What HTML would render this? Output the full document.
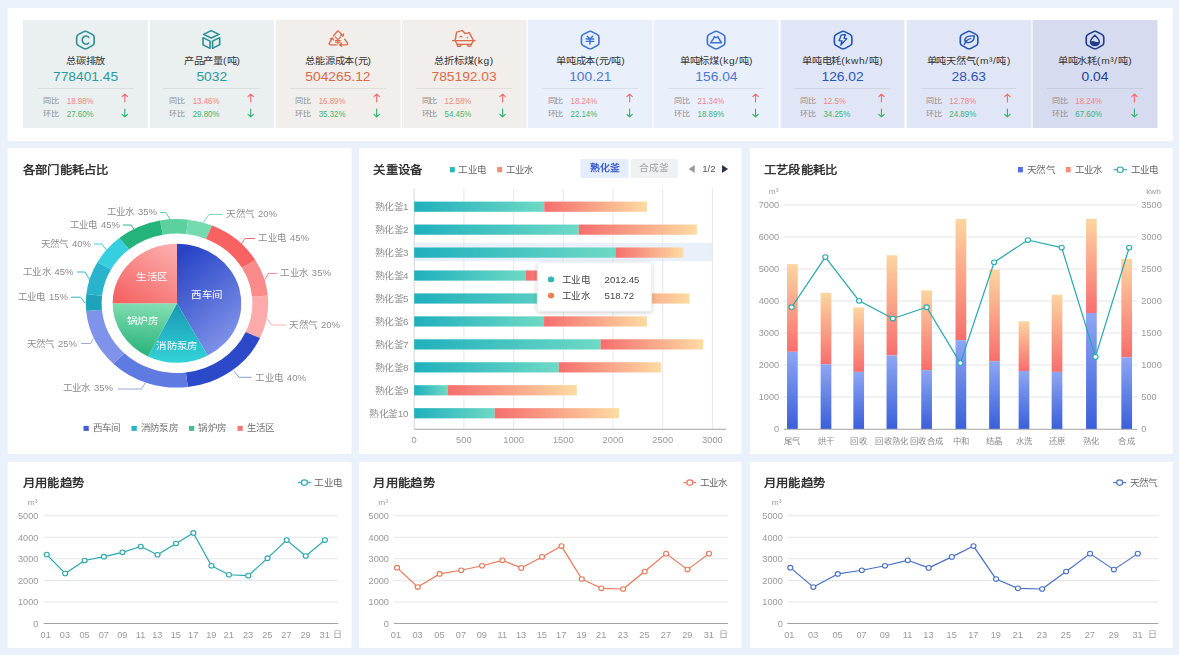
<!DOCTYPE html>
<html lang="zh-CN"><head><meta charset="utf-8"><title>能耗看板</title><style>
html,body{margin:0;padding:0;background:#ebf1fa;}
body{width:1179px;height:655px;overflow:hidden;position:relative;font-family:"Liberation Sans",sans-serif;}
#root{position:absolute;left:0;top:0;width:1076.71px;height:655px;transform-origin:0 0;transform:scale(1.095,1);}
.panel{position:absolute;background:#fff;border-radius:1px;}
.card{position:absolute;top:20.4px;height:107.4px;}
.t{position:absolute;white-space:nowrap;line-height:1;}
.ct{left:0;right:0;text-align:center;}
.title{font-size:11.3px;font-weight:normal;color:#222;letter-spacing:0.25px;-webkit-text-stroke:0.32px #222;margin-top:0.7px;}
.lg{font-size:8.8px;color:#666;}
svg{position:absolute;left:0;top:0;overflow:visible;}
svg text{font-family:"Liberation Sans",sans-serif;}
</style></head><body><div id="root">
<div class="panel" style="left:7.31px;top:8px;width:1063.37px;height:133.1px"></div>
<div class="panel" style="left:7.31px;top:148.4px;width:313.51px;height:306px"></div>
<div class="panel" style="left:327.85px;top:148.4px;width:349.04px;height:306px"></div>
<div class="panel" style="left:684.57px;top:148.4px;width:386.11px;height:306px"></div>
<div class="panel" style="left:7.31px;top:461.7px;width:313.6px;height:186.7px"></div>
<div class="panel" style="left:327.85px;top:461.7px;width:349.04px;height:186.7px"></div>
<div class="panel" style="left:684.57px;top:461.7px;width:386.11px;height:186.7px"></div>
<div class="card" style="left:21.28px;width:113.79px;background:#eaf0f0">
<svg width="22" height="22" viewBox="0 0 22 22" style="left:50%;margin-left:-11px;top:8.4px" fill="none" stroke="#2a9098" stroke-width="1.5" stroke-linejoin="round" stroke-linecap="round"><path d="M9.24 2.82 Q11 1.8 12.76 2.82 L17.25 5.41 Q19.01 6.42 19.01 8.46 L19.01 13.64 Q19.01 15.67 17.25 16.69 L12.76 19.28 Q11 20.3 9.24 19.28 L4.75 16.69 Q2.99 15.68 2.99 13.64 L2.99 8.46 Q2.99 6.42 4.75 5.41 Z"/><path d="M14 8.3 A3.4 4.1 0 1 0 14 14" stroke-width="1.6"/></svg>
<div class="t ct" style="top:36.4px;font-size:9.35px;color:#333">总碳排放</div>
<div class="t ct" style="top:50.3px;font-size:12.6px;color:#2b9aa0">778401.45</div>
<div style="position:absolute;left:12.79px;width:87.85px;top:67.4px;height:1px;background:rgba(0,0,0,0.07)"></div>
<div class="t" style="left:18.08px;top:76.8px;font-size:7.4px;color:#8c8c8c">同比</div>
<div class="t" style="left:39.27px;top:76.2px;font-size:8.8px;color:#ef8585;transform:scaleX(0.82);transform-origin:0 50%">18.98%</div>
<svg width="8" height="10" viewBox="-4 -5 8 10" style="left:88.51px;top:72.4px" fill="none" stroke="#f56c6c" stroke-width="1.05" stroke-linecap="round" stroke-linejoin="round"><path d="M0 3.9 L0 -3.7 M-2.5 -1.4 L0 -3.9 L2.5 -1.4"/></svg>
<div class="t" style="left:18.08px;top:90px;font-size:7.4px;color:#8c8c8c">环比</div>
<div class="t" style="left:39.27px;top:89.4px;font-size:8.8px;color:#3fb574;transform:scaleX(0.82);transform-origin:0 50%">27.60%</div>
<svg width="8" height="10" viewBox="-4 -5 8 10" style="left:88.51px;top:87.2px" fill="none" stroke="#2fb46c" stroke-width="1.05" stroke-linecap="round" stroke-linejoin="round"><path d="M0 -3.9 L0 3.7 M-2.5 1.4 L0 3.9 L2.5 1.4"/></svg>
</div>
<div class="card" style="left:136.5px;width:113.79px;background:#eaf0f0">
<svg width="22" height="22" viewBox="0 0 22 22" style="left:50%;margin-left:-11px;top:8.4px" fill="none" stroke="#2a9098" stroke-width="1.5" stroke-linejoin="round" stroke-linecap="round"><path d="M10.9 1.6 L18 5.4 L10.9 9 L3.9 5.4 Z"/><path d="M3.4 8.7 L9.8 12.1 L9.8 19.3 L3.4 15.8 Z"/><path d="M12.1 12.1 L18.6 8.7 L18.6 15.6 L12.1 19.3 Z"/></svg>
<div class="t ct" style="top:36.4px;font-size:9.35px;color:#333">产品产量(吨)</div>
<div class="t ct" style="top:50.3px;font-size:12.6px;color:#2b9aa0">5032</div>
<div style="position:absolute;left:12.79px;width:87.85px;top:67.4px;height:1px;background:rgba(0,0,0,0.07)"></div>
<div class="t" style="left:18.08px;top:76.8px;font-size:7.4px;color:#8c8c8c">同比</div>
<div class="t" style="left:39.27px;top:76.2px;font-size:8.8px;color:#ef8585;transform:scaleX(0.82);transform-origin:0 50%">13.46%</div>
<svg width="8" height="10" viewBox="-4 -5 8 10" style="left:88.51px;top:72.4px" fill="none" stroke="#f56c6c" stroke-width="1.05" stroke-linecap="round" stroke-linejoin="round"><path d="M0 3.9 L0 -3.7 M-2.5 -1.4 L0 -3.9 L2.5 -1.4"/></svg>
<div class="t" style="left:18.08px;top:90px;font-size:7.4px;color:#8c8c8c">环比</div>
<div class="t" style="left:39.27px;top:89.4px;font-size:8.8px;color:#3fb574;transform:scaleX(0.82);transform-origin:0 50%">29.80%</div>
<svg width="8" height="10" viewBox="-4 -5 8 10" style="left:88.51px;top:87.2px" fill="none" stroke="#2fb46c" stroke-width="1.05" stroke-linecap="round" stroke-linejoin="round"><path d="M0 -3.9 L0 3.7 M-2.5 1.4 L0 3.9 L2.5 1.4"/></svg>
</div>
<div class="card" style="left:251.73px;width:113.79px;background:#f2eeeb">
<svg width="22" height="22" viewBox="0 0 22 22" style="left:50%;margin-left:-11px;top:8.4px" fill="none" stroke="#dd6b47" stroke-width="1.5" stroke-linejoin="round" stroke-linecap="round"><g stroke-width="1.3"><path d="M6.6 6.9 L10 2.3 Q10.7 1.4 11.4 2.3 L15 6.7"/><path d="M13.2 6.3 L15.3 7 L15.7 4.9"/><path d="M16.8 10.1 L19.3 14 Q19.9 15.7 18.2 15.8 L12.4 15.8"/><path d="M13.9 14.3 L12.2 15.8 L13.9 17.3"/><path d="M9.6 15.8 L3.8 15.8 Q2.1 15.7 2.8 14 L5.3 9.4"/><path d="M3.6 10 L5.5 9 L6.5 10.9"/><path d="M8 7.8 L10.6 10.6 L13.2 7.8 M10.6 10.6 L10.6 14.6 M8.4 11.5 L12.8 11.5 M8.4 13.1 L12.8 13.1" stroke-width="1.1"/></g></svg>
<div class="t ct" style="top:36.4px;font-size:9.35px;color:#333">总能源成本(元)</div>
<div class="t ct" style="top:50.3px;font-size:12.6px;color:#db6a48">504265.12</div>
<div style="position:absolute;left:12.79px;width:87.85px;top:67.4px;height:1px;background:rgba(0,0,0,0.07)"></div>
<div class="t" style="left:18.08px;top:76.8px;font-size:7.4px;color:#8c8c8c">同比</div>
<div class="t" style="left:39.27px;top:76.2px;font-size:8.8px;color:#ef8585;transform:scaleX(0.82);transform-origin:0 50%">16.89%</div>
<svg width="8" height="10" viewBox="-4 -5 8 10" style="left:88.51px;top:72.4px" fill="none" stroke="#f56c6c" stroke-width="1.05" stroke-linecap="round" stroke-linejoin="round"><path d="M0 3.9 L0 -3.7 M-2.5 -1.4 L0 -3.9 L2.5 -1.4"/></svg>
<div class="t" style="left:18.08px;top:90px;font-size:7.4px;color:#8c8c8c">环比</div>
<div class="t" style="left:39.27px;top:89.4px;font-size:8.8px;color:#3fb574;transform:scaleX(0.82);transform-origin:0 50%">35.32%</div>
<svg width="8" height="10" viewBox="-4 -5 8 10" style="left:88.51px;top:87.2px" fill="none" stroke="#2fb46c" stroke-width="1.05" stroke-linecap="round" stroke-linejoin="round"><path d="M0 -3.9 L0 3.7 M-2.5 1.4 L0 3.9 L2.5 1.4"/></svg>
</div>
<div class="card" style="left:366.95px;width:113.79px;background:#f2eeeb">
<svg width="22" height="22" viewBox="0 0 22 22" style="left:50%;margin-left:-11px;top:8.4px" fill="none" stroke="#dd6b47" stroke-width="1.5" stroke-linejoin="round" stroke-linecap="round"><g stroke-width="1.3"><path d="M0.4 11.6 L20.8 11.6"/><path d="M2.6 11.6 L4.7 15.3 L17.4 15.3 L19.4 11.6"/><path d="M2.7 11.2 L4 3.2 L9.3 1.5 L11.7 4.6 L15.5 3.6 L19.3 11.2"/><path d="M7 8 Q8 6.4 9 8" stroke-width="1.1"/><path d="M13.8 8.2 L13.8 9" stroke-width="1.1"/><path d="M4.5 15.5 A1.75 1.9 0 0 0 8 15.5"/><path d="M13.9 15.5 A1.75 1.9 0 0 0 17.4 15.5"/></g></svg>
<div class="t ct" style="top:36.4px;font-size:9.35px;color:#333">总折标煤<span style="letter-spacing:0.55px">(kg)</span></div>
<div class="t ct" style="top:50.3px;font-size:12.6px;color:#db6a48">785192.03</div>
<div style="position:absolute;left:12.79px;width:87.85px;top:67.4px;height:1px;background:rgba(0,0,0,0.07)"></div>
<div class="t" style="left:18.08px;top:76.8px;font-size:7.4px;color:#8c8c8c">同比</div>
<div class="t" style="left:39.27px;top:76.2px;font-size:8.8px;color:#ef8585;transform:scaleX(0.82);transform-origin:0 50%">12.58%</div>
<svg width="8" height="10" viewBox="-4 -5 8 10" style="left:88.51px;top:72.4px" fill="none" stroke="#f56c6c" stroke-width="1.05" stroke-linecap="round" stroke-linejoin="round"><path d="M0 3.9 L0 -3.7 M-2.5 -1.4 L0 -3.9 L2.5 -1.4"/></svg>
<div class="t" style="left:18.08px;top:90px;font-size:7.4px;color:#8c8c8c">环比</div>
<div class="t" style="left:39.27px;top:89.4px;font-size:8.8px;color:#3fb574;transform:scaleX(0.82);transform-origin:0 50%">54.45%</div>
<svg width="8" height="10" viewBox="-4 -5 8 10" style="left:88.51px;top:87.2px" fill="none" stroke="#2fb46c" stroke-width="1.05" stroke-linecap="round" stroke-linejoin="round"><path d="M0 -3.9 L0 3.7 M-2.5 1.4 L0 3.9 L2.5 1.4"/></svg>
</div>
<div class="card" style="left:482.17px;width:113.79px;background:#eaeffc">
<svg width="22" height="22" viewBox="0 0 22 22" style="left:50%;margin-left:-11px;top:8.4px" fill="none" stroke="#3a73d8" stroke-width="1.5" stroke-linejoin="round" stroke-linecap="round"><path d="M9.24 2.82 Q11 1.8 12.76 2.82 L17.25 5.41 Q19.01 6.42 19.01 8.46 L19.01 13.64 Q19.01 15.67 17.25 16.69 L12.76 19.28 Q11 20.3 9.24 19.28 L4.75 16.69 Q2.99 15.68 2.99 13.64 L2.99 8.46 Q2.99 6.42 4.75 5.41 Z"/><path d="M8.3 7.2 L10.8 9.9 L13.3 7.2 M10.8 9.9 L10.8 15 M7.4 10 L14.2 10 M7.4 12.4 L14.2 12.4" stroke-width="1.35"/></svg>
<div class="t ct" style="top:36.4px;font-size:9.35px;color:#333">单吨成本(元/吨)</div>
<div class="t ct" style="top:50.3px;font-size:12.6px;color:#4a7ad2">100.21</div>
<div style="position:absolute;left:12.79px;width:87.85px;top:67.4px;height:1px;background:rgba(0,0,0,0.07)"></div>
<div class="t" style="left:18.08px;top:76.8px;font-size:7.4px;color:#8c8c8c">同比</div>
<div class="t" style="left:39.27px;top:76.2px;font-size:8.8px;color:#ef8585;transform:scaleX(0.82);transform-origin:0 50%">18.24%</div>
<svg width="8" height="10" viewBox="-4 -5 8 10" style="left:88.51px;top:72.4px" fill="none" stroke="#f56c6c" stroke-width="1.05" stroke-linecap="round" stroke-linejoin="round"><path d="M0 3.9 L0 -3.7 M-2.5 -1.4 L0 -3.9 L2.5 -1.4"/></svg>
<div class="t" style="left:18.08px;top:90px;font-size:7.4px;color:#8c8c8c">环比</div>
<div class="t" style="left:39.27px;top:89.4px;font-size:8.8px;color:#3fb574;transform:scaleX(0.82);transform-origin:0 50%">22.14%</div>
<svg width="8" height="10" viewBox="-4 -5 8 10" style="left:88.51px;top:87.2px" fill="none" stroke="#2fb46c" stroke-width="1.05" stroke-linecap="round" stroke-linejoin="round"><path d="M0 -3.9 L0 3.7 M-2.5 1.4 L0 3.9 L2.5 1.4"/></svg>
</div>
<div class="card" style="left:597.4px;width:113.79px;background:#eaeffc">
<svg width="22" height="22" viewBox="0 0 22 22" style="left:50%;margin-left:-11px;top:8.4px" fill="none" stroke="#3a73d8" stroke-width="1.5" stroke-linejoin="round" stroke-linecap="round"><path d="M9.24 2.82 Q11 1.8 12.76 2.82 L17.25 5.41 Q19.01 6.42 19.01 8.46 L19.01 13.64 Q19.01 15.67 17.25 16.69 L12.76 19.28 Q11 20.3 9.24 19.28 L4.75 16.69 Q2.99 15.68 2.99 13.64 L2.99 8.46 Q2.99 6.42 4.75 5.41 Z"/><path d="M5.9 13.8 L16 13.8 M6.2 13.5 L9 8.9 L9.3 7.5 L10.9 8.7 L12.6 7.5 L13.1 8.9 L15.8 13.5" stroke-width="1.4"/><path d="M12.8 8 L13.4 8.8 L15.9 13.4 L14.6 13.4 Z" fill="#3a73d8" stroke="none"/></svg>
<div class="t ct" style="top:36.4px;font-size:9.35px;color:#333">单吨标煤<span style="letter-spacing:0.55px">(kg/吨)</span></div>
<div class="t ct" style="top:50.3px;font-size:12.6px;color:#4a7ad2">156.04</div>
<div style="position:absolute;left:12.79px;width:87.85px;top:67.4px;height:1px;background:rgba(0,0,0,0.07)"></div>
<div class="t" style="left:18.08px;top:76.8px;font-size:7.4px;color:#8c8c8c">同比</div>
<div class="t" style="left:39.27px;top:76.2px;font-size:8.8px;color:#ef8585;transform:scaleX(0.82);transform-origin:0 50%">21.34%</div>
<svg width="8" height="10" viewBox="-4 -5 8 10" style="left:88.51px;top:72.4px" fill="none" stroke="#f56c6c" stroke-width="1.05" stroke-linecap="round" stroke-linejoin="round"><path d="M0 3.9 L0 -3.7 M-2.5 -1.4 L0 -3.9 L2.5 -1.4"/></svg>
<div class="t" style="left:18.08px;top:90px;font-size:7.4px;color:#8c8c8c">环比</div>
<div class="t" style="left:39.27px;top:89.4px;font-size:8.8px;color:#3fb574;transform:scaleX(0.82);transform-origin:0 50%">18.89%</div>
<svg width="8" height="10" viewBox="-4 -5 8 10" style="left:88.51px;top:87.2px" fill="none" stroke="#2fb46c" stroke-width="1.05" stroke-linecap="round" stroke-linejoin="round"><path d="M0 -3.9 L0 3.7 M-2.5 1.4 L0 3.9 L2.5 1.4"/></svg>
</div>
<div class="card" style="left:712.62px;width:113.79px;background:#e0e6f5">
<svg width="22" height="22" viewBox="0 0 22 22" style="left:50%;margin-left:-11px;top:8.4px" fill="none" stroke="#1f55b6" stroke-width="1.5" stroke-linejoin="round" stroke-linecap="round"><path d="M9.24 2.82 Q11 1.8 12.76 2.82 L17.25 5.41 Q19.01 6.42 19.01 8.46 L19.01 13.64 Q19.01 15.67 17.25 16.69 L12.76 19.28 Q11 20.3 9.24 19.28 L4.75 16.69 Q2.99 15.68 2.99 13.64 L2.99 8.46 Q2.99 6.42 4.75 5.41 Z"/><path d="M9.3 5.9 L13 5.7 L11.9 9.4 L14.3 9.6 L8.9 16.1 L9.9 12 L7.3 11.6 Z" stroke-width="1.3"/></svg>
<div class="t ct" style="top:36.4px;font-size:9.35px;color:#333">单吨电耗<span style="letter-spacing:0.55px">(kwh/吨)</span></div>
<div class="t ct" style="top:50.3px;font-size:12.6px;color:#2a55b8">126.02</div>
<div style="position:absolute;left:12.79px;width:87.85px;top:67.4px;height:1px;background:rgba(0,0,0,0.07)"></div>
<div class="t" style="left:18.08px;top:76.8px;font-size:7.4px;color:#8c8c8c">同比</div>
<div class="t" style="left:39.27px;top:76.2px;font-size:8.8px;color:#ef8585;transform:scaleX(0.82);transform-origin:0 50%">12.5%</div>
<svg width="8" height="10" viewBox="-4 -5 8 10" style="left:88.51px;top:72.4px" fill="none" stroke="#f56c6c" stroke-width="1.05" stroke-linecap="round" stroke-linejoin="round"><path d="M0 3.9 L0 -3.7 M-2.5 -1.4 L0 -3.9 L2.5 -1.4"/></svg>
<div class="t" style="left:18.08px;top:90px;font-size:7.4px;color:#8c8c8c">环比</div>
<div class="t" style="left:39.27px;top:89.4px;font-size:8.8px;color:#3fb574;transform:scaleX(0.82);transform-origin:0 50%">34.25%</div>
<svg width="8" height="10" viewBox="-4 -5 8 10" style="left:88.51px;top:87.2px" fill="none" stroke="#2fb46c" stroke-width="1.05" stroke-linecap="round" stroke-linejoin="round"><path d="M0 -3.9 L0 3.7 M-2.5 1.4 L0 3.9 L2.5 1.4"/></svg>
</div>
<div class="card" style="left:827.84px;width:113.79px;background:#e0e6f5">
<svg width="22" height="22" viewBox="0 0 22 22" style="left:50%;margin-left:-11px;top:8.4px" fill="none" stroke="#1f55b6" stroke-width="1.5" stroke-linejoin="round" stroke-linecap="round"><path d="M9.24 2.82 Q11 1.8 12.76 2.82 L17.25 5.41 Q19.01 6.42 19.01 8.46 L19.01 13.64 Q19.01 15.67 17.25 16.69 L12.76 19.28 Q11 20.3 9.24 19.28 L4.75 16.69 Q2.99 15.68 2.99 13.64 L2.99 8.46 Q2.99 6.42 4.75 5.41 Z"/><path d="M15.7 7 Q9.2 6.3 7.5 9.6 Q6.6 12.2 8.6 13.2 Q11.6 14.6 14.4 11.8 Q15.8 9.8 15.7 7 Z M6.7 15.5 Q7.6 12.6 9 11.4 Q10.4 10.2 12.4 9.5" stroke-width="1.3"/></svg>
<div class="t ct" style="top:36.4px;font-size:9.35px;color:#333">单吨天然气<span style="letter-spacing:0.55px">(m³/吨)</span></div>
<div class="t ct" style="top:50.3px;font-size:12.6px;color:#2a55b8">28.63</div>
<div style="position:absolute;left:12.79px;width:87.85px;top:67.4px;height:1px;background:rgba(0,0,0,0.07)"></div>
<div class="t" style="left:18.08px;top:76.8px;font-size:7.4px;color:#8c8c8c">同比</div>
<div class="t" style="left:39.27px;top:76.2px;font-size:8.8px;color:#ef8585;transform:scaleX(0.82);transform-origin:0 50%">12.78%</div>
<svg width="8" height="10" viewBox="-4 -5 8 10" style="left:88.51px;top:72.4px" fill="none" stroke="#f56c6c" stroke-width="1.05" stroke-linecap="round" stroke-linejoin="round"><path d="M0 3.9 L0 -3.7 M-2.5 -1.4 L0 -3.9 L2.5 -1.4"/></svg>
<div class="t" style="left:18.08px;top:90px;font-size:7.4px;color:#8c8c8c">环比</div>
<div class="t" style="left:39.27px;top:89.4px;font-size:8.8px;color:#3fb574;transform:scaleX(0.82);transform-origin:0 50%">24.89%</div>
<svg width="8" height="10" viewBox="-4 -5 8 10" style="left:88.51px;top:87.2px" fill="none" stroke="#2fb46c" stroke-width="1.05" stroke-linecap="round" stroke-linejoin="round"><path d="M0 -3.9 L0 3.7 M-2.5 1.4 L0 3.9 L2.5 1.4"/></svg>
</div>
<div class="card" style="left:943.07px;width:113.79px;background:#d6dbef">
<svg width="22" height="22" viewBox="0 0 22 22" style="left:50%;margin-left:-11px;top:8.4px" fill="none" stroke="#1d3c90" stroke-width="1.5" stroke-linejoin="round" stroke-linecap="round"><path d="M9.24 2.82 Q11 1.8 12.76 2.82 L17.25 5.41 Q19.01 6.42 19.01 8.46 L19.01 13.64 Q19.01 15.67 17.25 16.69 L12.76 19.28 Q11 20.3 9.24 19.28 L4.75 16.69 Q2.99 15.68 2.99 13.64 L2.99 8.46 Q2.99 6.42 4.75 5.41 Z"/><path d="M10.9 6.3 Q15 10.6 15 12.9 A4.1 3.8 0 0 1 6.8 12.9 Q6.8 10.6 10.9 6.3 Z" stroke-width="1.3"/><path d="M7.3 12.4 Q9 11.4 10.9 12.5 Q12.8 13.6 14.5 12.4 L14.5 13.4 A3.6 3.2 0 0 1 7.3 13.4 Z" fill="#1d3c90" stroke="none"/></svg>
<div class="t ct" style="top:36.4px;font-size:9.35px;color:#333">单吨水耗<span style="letter-spacing:0.55px">(m³/吨)</span></div>
<div class="t ct" style="top:50.3px;font-size:12.6px;color:#1f3f9c">0.04</div>
<div style="position:absolute;left:12.79px;width:87.85px;top:67.4px;height:1px;background:rgba(0,0,0,0.07)"></div>
<div class="t" style="left:18.08px;top:76.8px;font-size:7.4px;color:#8c8c8c">同比</div>
<div class="t" style="left:39.27px;top:76.2px;font-size:8.8px;color:#ef8585;transform:scaleX(0.82);transform-origin:0 50%">18.24%</div>
<svg width="8" height="10" viewBox="-4 -5 8 10" style="left:88.51px;top:72.4px" fill="none" stroke="#f56c6c" stroke-width="1.05" stroke-linecap="round" stroke-linejoin="round"><path d="M0 3.9 L0 -3.7 M-2.5 -1.4 L0 -3.9 L2.5 -1.4"/></svg>
<div class="t" style="left:18.08px;top:90px;font-size:7.4px;color:#8c8c8c">环比</div>
<div class="t" style="left:39.27px;top:89.4px;font-size:8.8px;color:#3fb574;transform:scaleX(0.82);transform-origin:0 50%">67.60%</div>
<svg width="8" height="10" viewBox="-4 -5 8 10" style="left:88.51px;top:87.2px" fill="none" stroke="#2fb46c" stroke-width="1.05" stroke-linecap="round" stroke-linejoin="round"><path d="M0 -3.9 L0 3.7 M-2.5 1.4 L0 3.9 L2.5 1.4"/></svg>
</div>
<div class="t title" style="left:20.64px;top:164.2px">各部门能耗占比</div>
<svg width="1076.71" height="655" viewBox="0 0 1076.71 655">
<defs><linearGradient id="pg1" x1="0.2" y1="0" x2="0.7" y2="1"><stop offset="0" stop-color="#2643c6"/><stop offset="1" stop-color="#8496ea"/></linearGradient><linearGradient id="pg2" x1="0.5" y1="0" x2="0.5" y2="1"><stop offset="0" stop-color="#1896b3"/><stop offset="1" stop-color="#33d3d8"/></linearGradient><linearGradient id="pg3" x1="0.6" y1="0" x2="0.5" y2="1"><stop offset="0" stop-color="#83deb2"/><stop offset="1" stop-color="#27b27b"/></linearGradient><linearGradient id="pg4" x1="0.9" y1="0" x2="0.2" y2="1"><stop offset="0" stop-color="#fcaeae"/><stop offset="1" stop-color="#f56464"/></linearGradient></defs>
<g transform="translate(161.64 0) scale(0.988 1) translate(-161.64 0)">
<path d="M161.64 303.3 L161.64 243.8 A59.5 59.5 0 0 1 190.03 355.59 Z" fill="url(#pg1)"/>
<path d="M161.64 303.3 L190.03 355.59 A59.5 59.5 0 0 1 134.81 356.41 Z" fill="url(#pg2)"/>
<path d="M161.64 303.3 L134.81 356.41 A59.5 59.5 0 0 1 102.14 303.3 Z" fill="url(#pg3)"/>
<path d="M161.64 303.3 L102.14 303.3 A59.5 59.5 0 0 1 161.64 243.8 Z" fill="url(#pg4)"/>
<path d="M145.84 220.49 A84.3 84.3 0 0 1 171.91 219.63 L170.13 234.12 A69.7 69.7 0 0 0 148.58 234.83 Z" fill="#5dd0a0"/>
<path d="M171.91 219.63 A84.3 84.3 0 0 1 194.04 225.47 L188.43 238.95 A69.7 69.7 0 0 0 170.13 234.12 Z" fill="#74dbb0"/>
<path d="M194.04 225.47 A84.3 84.3 0 0 1 234.13 260.26 L221.57 267.72 A69.7 69.7 0 0 0 188.43 238.95 Z" fill="#f96262"/>
<path d="M234.13 260.26 A84.3 84.3 0 0 1 245.58 295.51 L231.04 296.86 A69.7 69.7 0 0 0 221.57 267.72 Z" fill="#fb8a8a"/>
<path d="M245.58 295.51 A84.3 84.3 0 0 1 238.41 338.12 L225.11 332.09 A69.7 69.7 0 0 0 231.04 296.86 Z" fill="#fdaaaa"/>
<path d="M238.41 338.12 A84.3 84.3 0 0 1 171.62 387.01 L169.89 372.51 A69.7 69.7 0 0 0 225.11 332.09 Z" fill="#2b49c9"/>
<path d="M171.62 387.01 A84.3 84.3 0 0 1 102.76 363.63 L112.96 353.18 A69.7 69.7 0 0 0 169.89 372.51 Z" fill="#5f7ae0"/>
<path d="M102.76 363.63 A84.3 84.3 0 0 1 77.7 311.09 L92.24 309.74 A69.7 69.7 0 0 0 112.96 353.18 Z" fill="#7e93e9"/>
<path d="M77.7 311.09 A84.3 84.3 0 0 1 77.85 294.05 L92.36 295.65 A69.7 69.7 0 0 0 92.24 309.74 Z" fill="#1fa3ba"/>
<path d="M77.85 294.05 A84.3 84.3 0 0 1 88.05 262.17 L100.8 269.3 A69.7 69.7 0 0 0 92.36 295.65 Z" fill="#2ab3cc"/>
<path d="M88.05 262.17 A84.3 84.3 0 0 1 108.25 238.07 L117.49 249.36 A69.7 69.7 0 0 0 100.8 269.3 Z" fill="#35cfe0"/>
<path d="M108.25 238.07 A84.3 84.3 0 0 1 145.84 220.49 L148.58 234.83 A69.7 69.7 0 0 0 117.49 249.36 Z" fill="#24b37a"/>
</g>
<polyline points="184.02,225 190.87,214.5 203.65,214.5" fill="none" stroke="#74dbb0" stroke-width="0.9"/>
<text x="206.85" y="217.3" font-size="8.7" fill="#8c8c8c" word-spacing="0.5" text-anchor="start">天然气 20%</text>
<polyline points="216.44,250.5 223.74,238.5 232.88,238.5" fill="none" stroke="#f96262" stroke-width="0.9"/>
<text x="236.07" y="241.3" font-size="8.7" fill="#8c8c8c" word-spacing="0.5" text-anchor="start">工业电 45%</text>
<polyline points="239.27,285.5 244.75,273.5 252.97,273.5" fill="none" stroke="#fb8a8a" stroke-width="0.9"/>
<text x="256.16" y="276.3" font-size="8.7" fill="#8c8c8c" word-spacing="0.5" text-anchor="start">工业水 35%</text>
<polyline points="242.01,316 248.4,325 261.19,325" fill="none" stroke="#fdaaaa" stroke-width="0.9"/>
<text x="264.38" y="327.8" font-size="8.7" fill="#8c8c8c" word-spacing="0.5" text-anchor="start">天然气 20%</text>
<polyline points="213.33,370.7 218.36,377.3 229.77,377.3" fill="none" stroke="#8494d8" stroke-width="0.9"/>
<text x="233.33" y="380.8" font-size="8.7" fill="#8c8c8c" word-spacing="0.5" text-anchor="start">工业电 40%</text>
<polyline points="132.69,383 129.13,389 107.76,389" fill="none" stroke="#98a4dc" stroke-width="0.9"/>
<text x="103.2" y="391.3" font-size="8.7" fill="#8c8c8c" word-spacing="0.5" text-anchor="end">工业水 35%</text>
<polyline points="85.3,338.5 82.74,343.5 73.97,343.5" fill="none" stroke="#98a4dc" stroke-width="0.9"/>
<text x="70.32" y="346.8" font-size="8.7" fill="#8c8c8c" word-spacing="0.5" text-anchor="end">天然气 25%</text>
<polyline points="77.44,302.8 73.61,297.2 64.84,297.2" fill="none" stroke="#2aa9be" stroke-width="0.9"/>
<text x="62.1" y="300.3" font-size="8.7" fill="#8c8c8c" word-spacing="0.5" text-anchor="end">工业电 15%</text>
<polyline points="84.02,284 77.63,272 70.32,272" fill="none" stroke="#2ab3cc" stroke-width="0.9"/>
<text x="67.12" y="274.8" font-size="8.7" fill="#8c8c8c" word-spacing="0.5" text-anchor="end">工业水 45%</text>
<polyline points="99.54,254 93.15,244 85.84,244" fill="none" stroke="#35cfe0" stroke-width="0.9"/>
<text x="83.11" y="246.8" font-size="8.7" fill="#8c8c8c" word-spacing="0.5" text-anchor="end">天然气 40%</text>
<polyline points="126.94,236 119.63,225 112.33,225" fill="none" stroke="#24b37a" stroke-width="0.9"/>
<text x="109.59" y="227.8" font-size="8.7" fill="#8c8c8c" word-spacing="0.5" text-anchor="end">工业电 45%</text>
<polyline points="156.16,221 151.6,212.5 146.12,212.5" fill="none" stroke="#5dd0a0" stroke-width="0.9"/>
<text x="143.38" y="215.3" font-size="8.7" fill="#8c8c8c" word-spacing="0.5" text-anchor="end">工业水 35%</text>
<text x="188.86" y="297.9" font-size="9.6" fill="#fff" text-anchor="middle">西车间</text>
<text x="138.81" y="279.8" font-size="9.6" fill="#fff" text-anchor="middle">生活区</text>
<text x="130.23" y="324.5" font-size="9.6" fill="#fff" text-anchor="middle">锅炉房</text>
<text x="161.64" y="349.3" font-size="9.6" fill="#fff" text-anchor="middle">消防泵房</text>
<rect x="76.26" y="425.9" width="4.8" height="5" fill="#3f5ed6"/>
<text x="84.66" y="431.5" font-size="8.7" fill="#6e6e6e">西车间</text>
<rect x="120.09" y="425.9" width="4.8" height="5" fill="#25b4cb"/>
<text x="128.49" y="431.5" font-size="8.7" fill="#6e6e6e">消防泵房</text>
<rect x="172.6" y="425.9" width="4.8" height="5" fill="#3fc08c"/>
<text x="181" y="431.5" font-size="8.7" fill="#6e6e6e">锅炉房</text>
<rect x="216.89" y="425.9" width="4.8" height="5" fill="#f77676"/>
<text x="225.3" y="431.5" font-size="8.7" fill="#6e6e6e">生活区</text>
</svg>
<div class="t title" style="left:340.91px;top:164.2px">关重设备</div>
<div class="t" style="left:530.32px;top:159.4px;width:43.65px;height:18.4px;background:#e6edfc;border-radius:1.5px;text-align:center;line-height:19.2px;font-size:9px;font-weight:bold;color:#3c5fd2">熟化釜</div>
<div class="t" style="left:575.71px;top:159.4px;width:43.38px;height:18.4px;background:#f0f1f3;border-radius:1.5px;text-align:center;line-height:19.2px;font-size:9px;color:#a0a0a0">合成釜</div>
<div class="t" style="left:641.28px;top:164.9px;font-size:8.9px;color:#555">1/2</div>
<svg width="1076.71" height="655" viewBox="0 0 1076.71 655">
<defs><linearGradient id="hg1" x1="0" y1="0" x2="1" y2="0"><stop offset="0" stop-color="#1fb0bd"/><stop offset="1" stop-color="#6ed9c5"/></linearGradient><linearGradient id="hg2" x1="0" y1="0" x2="1" y2="0"><stop offset="0" stop-color="#f56e6e"/><stop offset="1" stop-color="#fddba2"/></linearGradient><filter id="sh" x="-20%" y="-20%" width="140%" height="150%"><feGaussianBlur in="SourceAlpha" stdDeviation="2.2"/><feOffset dy="1"/><feComponentTransfer><feFuncA type="linear" slope="0.22"/></feComponentTransfer><feMerge><feMergeNode/><feMergeNode in="SourceGraphic"/></feMerge></filter></defs>
<path d="M634.43 164.9 L628.95 169 L634.43 173.1 Z" fill="#9b9b9b"/>
<path d="M659.45 164.9 L664.93 169 L659.45 173.1 Z" fill="#2a3446"/>
<rect x="410.87" y="167.1" width="4.47" height="5.2" fill="#2bb6bb"/>
<text x="418.63" y="173.4" font-size="8.8" fill="#666">工业电</text>
<rect x="454.06" y="167.1" width="4.47" height="5.2" fill="#f78a76"/>
<text x="461.74" y="173.4" font-size="8.8" fill="#666">工业水</text>
<rect x="378.26" y="242.8" width="272.52" height="18.5" fill="#e9f0f9"/>
<line x1="378.26" y1="188.8" x2="378.26" y2="429.2" stroke="#c4c7ce" stroke-width="0.7"/>
<text transform="translate(378.26 443.5) scale(0.87 1)" font-size="9.8" fill="#9a9a9a" text-anchor="middle">0</text>
<line x1="423.65" y1="188.8" x2="423.65" y2="429.2" stroke="#dde0e7" stroke-width="0.7"/>
<text transform="translate(423.65 443.5) scale(0.87 1)" font-size="9.8" fill="#9a9a9a" text-anchor="middle">500</text>
<line x1="469.04" y1="188.8" x2="469.04" y2="429.2" stroke="#dde0e7" stroke-width="0.7"/>
<text transform="translate(469.04 443.5) scale(0.87 1)" font-size="9.8" fill="#9a9a9a" text-anchor="middle">1000</text>
<line x1="514.43" y1="188.8" x2="514.43" y2="429.2" stroke="#dde0e7" stroke-width="0.7"/>
<text transform="translate(514.43 443.5) scale(0.87 1)" font-size="9.8" fill="#9a9a9a" text-anchor="middle">1500</text>
<line x1="559.82" y1="188.8" x2="559.82" y2="429.2" stroke="#dde0e7" stroke-width="0.7"/>
<text transform="translate(559.82 443.5) scale(0.87 1)" font-size="9.8" fill="#9a9a9a" text-anchor="middle">2000</text>
<line x1="605.21" y1="188.8" x2="605.21" y2="429.2" stroke="#dde0e7" stroke-width="0.7"/>
<text transform="translate(605.21 443.5) scale(0.87 1)" font-size="9.8" fill="#9a9a9a" text-anchor="middle">2500</text>
<line x1="650.59" y1="188.8" x2="650.59" y2="429.2" stroke="#dde0e7" stroke-width="0.7"/>
<text transform="translate(650.59 443.5) scale(0.87 1)" font-size="9.8" fill="#9a9a9a" text-anchor="middle">3000</text>
<line x1="378.26" y1="429.3" x2="663.01" y2="429.3" stroke="#a3a3a5" stroke-width="1.1"/>
<rect x="378.26" y="201.6" width="118.82" height="10.2" fill="url(#hg1)"/>
<rect x="497.08" y="201.6" width="93.79" height="10.2" fill="url(#hg2)"/>
<text x="373.15" y="210" font-size="9" fill="#8e8e8e" text-anchor="end">熟化釜1</text>
<rect x="378.26" y="224.55" width="150.23" height="10.2" fill="url(#hg1)"/>
<rect x="528.49" y="224.55" width="107.95" height="10.2" fill="url(#hg2)"/>
<text x="373.15" y="232.95" font-size="9" fill="#8e8e8e" text-anchor="end">熟化釜2</text>
<rect x="378.26" y="247.5" width="183.75" height="10.2" fill="url(#hg1)"/>
<rect x="562.01" y="247.5" width="62.01" height="10.2" fill="url(#hg2)"/>
<text x="373.15" y="255.9" font-size="9" fill="#8e8e8e" text-anchor="end">熟化釜3</text>
<rect x="378.26" y="270.45" width="102.01" height="10.2" fill="url(#hg1)"/>
<rect x="480.27" y="270.45" width="87.77" height="10.2" fill="url(#hg2)"/>
<text x="373.15" y="278.85" font-size="9" fill="#8e8e8e" text-anchor="end">熟化釜4</text>
<rect x="378.26" y="293.4" width="158.73" height="10.2" fill="url(#hg1)"/>
<rect x="536.99" y="293.4" width="92.78" height="10.2" fill="url(#hg2)"/>
<text x="373.15" y="301.8" font-size="9" fill="#8e8e8e" text-anchor="end">熟化釜5</text>
<rect x="378.26" y="316.35" width="118.63" height="10.2" fill="url(#hg1)"/>
<rect x="496.89" y="316.35" width="93.98" height="10.2" fill="url(#hg2)"/>
<text x="373.15" y="324.75" font-size="9" fill="#8e8e8e" text-anchor="end">熟化釜6</text>
<rect x="378.26" y="339.3" width="170.23" height="10.2" fill="url(#hg1)"/>
<rect x="548.49" y="339.3" width="93.7" height="10.2" fill="url(#hg2)"/>
<text x="373.15" y="347.7" font-size="9" fill="#8e8e8e" text-anchor="end">熟化釜7</text>
<rect x="378.26" y="362.25" width="132.06" height="10.2" fill="url(#hg1)"/>
<rect x="510.32" y="362.25" width="93.42" height="10.2" fill="url(#hg2)"/>
<text x="373.15" y="370.65" font-size="9" fill="#8e8e8e" text-anchor="end">熟化釜8</text>
<rect x="378.26" y="385.2" width="30.42" height="10.2" fill="url(#hg1)"/>
<rect x="408.68" y="385.2" width="118.17" height="10.2" fill="url(#hg2)"/>
<text x="373.15" y="393.6" font-size="9" fill="#8e8e8e" text-anchor="end">熟化釜9</text>
<rect x="378.26" y="408.15" width="73.52" height="10.2" fill="url(#hg1)"/>
<rect x="451.78" y="408.15" width="113.52" height="10.2" fill="url(#hg2)"/>
<text x="373.15" y="416.55" font-size="9" fill="#8e8e8e" text-anchor="end">熟化釜10</text>
<rect x="490.78" y="262.6" width="104.29" height="48.6" rx="2.5" fill="#fff" stroke="#e6ebf5" stroke-width="0.7" filter="url(#sh)"/>
<circle cx="503.2" cy="279.4" r="2.9" fill="#2fb7bb"/>
<text x="513.06" y="282.6" font-size="8.8" fill="#444">工业电</text>
<text x="552.15" y="282.6" font-size="8.8" fill="#444">2012.45</text>
<circle cx="503.2" cy="295.6" r="2.9" fill="#f07d55"/>
<text x="513.06" y="298.8" font-size="8.8" fill="#444">工业水</text>
<text x="552.15" y="298.8" font-size="8.8" fill="#444">518.72</text>
</svg>
<div class="t title" style="left:697.53px;top:164.2px">工艺段能耗比</div>
<svg width="1076.71" height="655" viewBox="0 0 1076.71 655">
<defs><linearGradient id="cg1" x1="0" y1="0" x2="0" y2="1"><stop offset="0" stop-color="#8ea6f3"/><stop offset="1" stop-color="#3a5fd9"/></linearGradient><linearGradient id="cg2" x1="0" y1="0" x2="0" y2="1"><stop offset="0" stop-color="#fdd5a0"/><stop offset="1" stop-color="#f76e6e"/></linearGradient></defs>
<text x="711.6" y="432" font-size="8.4" fill="#9a9a9a" text-anchor="end">0</text>
<text x="1042.37" y="432" font-size="8.4" fill="#9a9a9a">0</text>
<line x1="715.98" y1="397" x2="1038.54" y2="397" stroke="#e6e6e8" stroke-width="1"/>
<text x="711.6" y="400" font-size="8.4" fill="#9a9a9a" text-anchor="end">1000</text>
<text x="1042.37" y="400" font-size="8.4" fill="#9a9a9a">500</text>
<line x1="715.98" y1="365" x2="1038.54" y2="365" stroke="#e6e6e8" stroke-width="1"/>
<text x="711.6" y="368" font-size="8.4" fill="#9a9a9a" text-anchor="end">2000</text>
<text x="1042.37" y="368" font-size="8.4" fill="#9a9a9a">1000</text>
<line x1="715.98" y1="333" x2="1038.54" y2="333" stroke="#e6e6e8" stroke-width="1"/>
<text x="711.6" y="336" font-size="8.4" fill="#9a9a9a" text-anchor="end">3000</text>
<text x="1042.37" y="336" font-size="8.4" fill="#9a9a9a">1500</text>
<line x1="715.98" y1="301" x2="1038.54" y2="301" stroke="#e6e6e8" stroke-width="1"/>
<text x="711.6" y="304" font-size="8.4" fill="#9a9a9a" text-anchor="end">4000</text>
<text x="1042.37" y="304" font-size="8.4" fill="#9a9a9a">2000</text>
<line x1="715.98" y1="269" x2="1038.54" y2="269" stroke="#e6e6e8" stroke-width="1"/>
<text x="711.6" y="272" font-size="8.4" fill="#9a9a9a" text-anchor="end">5000</text>
<text x="1042.37" y="272" font-size="8.4" fill="#9a9a9a">2500</text>
<line x1="715.98" y1="237" x2="1038.54" y2="237" stroke="#e6e6e8" stroke-width="1"/>
<text x="711.6" y="240" font-size="8.4" fill="#9a9a9a" text-anchor="end">6000</text>
<text x="1042.37" y="240" font-size="8.4" fill="#9a9a9a">3000</text>
<line x1="715.98" y1="205" x2="1038.54" y2="205" stroke="#e6e6e8" stroke-width="1"/>
<text x="711.6" y="208" font-size="8.4" fill="#9a9a9a" text-anchor="end">7000</text>
<text x="1042.37" y="208" font-size="8.4" fill="#9a9a9a">3500</text>
<text x="710.96" y="193.6" font-size="7.6" fill="#9a9a9a" text-anchor="end">m³</text>
<text x="1060.27" y="193.6" font-size="7.6" fill="#9a9a9a" text-anchor="end">kwh</text>
<rect x="718.77" y="264.1" width="9.77" height="87.7" fill="url(#cg2)"/>
<rect x="718.77" y="351.8" width="9.77" height="77.2" fill="url(#cg1)"/>
<text x="723.65" y="443.6" font-size="7.6" fill="#8a8a8a" text-anchor="middle">尾气</text>
<rect x="749.45" y="292.8" width="9.77" height="71.5" fill="url(#cg2)"/>
<rect x="749.45" y="364.3" width="9.77" height="64.7" fill="url(#cg1)"/>
<text x="754.34" y="443.6" font-size="7.6" fill="#8a8a8a" text-anchor="middle">烘干</text>
<rect x="779.32" y="307.5" width="9.77" height="64.4" fill="url(#cg2)"/>
<rect x="779.32" y="371.9" width="9.77" height="57.1" fill="url(#cg1)"/>
<text x="784.2" y="443.6" font-size="7.6" fill="#8a8a8a" text-anchor="middle">回收</text>
<rect x="809.63" y="255.3" width="9.78" height="100.1" fill="url(#cg2)"/>
<rect x="809.63" y="355.4" width="9.78" height="73.6" fill="url(#cg1)"/>
<text x="814.52" y="443.6" font-size="7.6" fill="#8a8a8a" text-anchor="middle">回收熟化</text>
<rect x="841.32" y="290.4" width="9.78" height="79.7" fill="url(#cg2)"/>
<rect x="841.32" y="370.1" width="9.78" height="58.9" fill="url(#cg1)"/>
<text x="846.21" y="443.6" font-size="7.6" fill="#8a8a8a" text-anchor="middle">回收合成</text>
<rect x="872.65" y="218.9" width="9.77" height="121.3" fill="url(#cg2)"/>
<rect x="872.65" y="340.2" width="9.77" height="88.8" fill="url(#cg1)"/>
<text x="877.53" y="443.6" font-size="7.6" fill="#8a8a8a" text-anchor="middle">中和</text>
<rect x="903.33" y="269.6" width="9.78" height="91.6" fill="url(#cg2)"/>
<rect x="903.33" y="361.2" width="9.78" height="67.8" fill="url(#cg1)"/>
<text x="908.22" y="443.6" font-size="7.6" fill="#8a8a8a" text-anchor="middle">结晶</text>
<rect x="930.27" y="321.2" width="9.78" height="49.8" fill="url(#cg2)"/>
<rect x="930.27" y="371" width="9.78" height="58" fill="url(#cg1)"/>
<text x="935.16" y="443.6" font-size="7.6" fill="#8a8a8a" text-anchor="middle">水洗</text>
<rect x="960.41" y="294.7" width="9.77" height="77.2" fill="url(#cg2)"/>
<rect x="960.41" y="371.9" width="9.77" height="57.1" fill="url(#cg1)"/>
<text x="965.3" y="443.6" font-size="7.6" fill="#8a8a8a" text-anchor="middle">还原</text>
<rect x="991.83" y="218.9" width="9.77" height="94.1" fill="url(#cg2)"/>
<rect x="991.83" y="313" width="9.77" height="116" fill="url(#cg1)"/>
<text x="996.71" y="443.6" font-size="7.6" fill="#8a8a8a" text-anchor="middle">熟化</text>
<rect x="1024.06" y="258.9" width="9.78" height="98.4" fill="url(#cg2)"/>
<rect x="1024.06" y="357.3" width="9.78" height="71.7" fill="url(#cg1)"/>
<text x="1028.95" y="443.6" font-size="7.6" fill="#8a8a8a" text-anchor="middle">合成</text>
<line x1="715.98" y1="429.3" x2="1038.54" y2="429.3" stroke="#a3a3a5" stroke-width="1.1"/>
<polyline points="722.92,307.2 753.75,257.1 784.58,300.8 815.42,318.5 846.25,307.2 877.08,363.1 907.91,262.3 938.74,240 969.57,247.6 1000.4,356.9 1031.23,247.6" fill="none" stroke="#2aa9b0" stroke-width="1.15" stroke-linejoin="round"/>
<circle cx="722.92" cy="307.2" r="2.35" fill="#fff" stroke="#2aa9b0" stroke-width="1.05"/>
<circle cx="753.75" cy="257.1" r="2.35" fill="#fff" stroke="#2aa9b0" stroke-width="1.05"/>
<circle cx="784.58" cy="300.8" r="2.35" fill="#fff" stroke="#2aa9b0" stroke-width="1.05"/>
<circle cx="815.42" cy="318.5" r="2.35" fill="#fff" stroke="#2aa9b0" stroke-width="1.05"/>
<circle cx="846.25" cy="307.2" r="2.35" fill="#fff" stroke="#2aa9b0" stroke-width="1.05"/>
<circle cx="877.08" cy="363.1" r="2.35" fill="#fff" stroke="#2aa9b0" stroke-width="1.05"/>
<circle cx="907.91" cy="262.3" r="2.35" fill="#fff" stroke="#2aa9b0" stroke-width="1.05"/>
<circle cx="938.74" cy="240" r="2.35" fill="#fff" stroke="#2aa9b0" stroke-width="1.05"/>
<circle cx="969.57" cy="247.6" r="2.35" fill="#fff" stroke="#2aa9b0" stroke-width="1.05"/>
<circle cx="1000.4" cy="356.9" r="2.35" fill="#fff" stroke="#2aa9b0" stroke-width="1.05"/>
<circle cx="1031.23" cy="247.6" r="2.35" fill="#fff" stroke="#2aa9b0" stroke-width="1.05"/>
<rect x="929.68" y="167" width="4.47" height="5.4" fill="#4f70de"/>
<text x="937.72" y="173.4" font-size="8.8" fill="#666">天然气</text>
<rect x="973.33" y="167" width="4.47" height="5.4" fill="#f98d76"/>
<text x="981.46" y="173.4" font-size="8.8" fill="#666">工业水</text>
<line x1="1016.8" y1="169.7" x2="1029.22" y2="169.7" stroke="#2aa9b0" stroke-width="1.1"/>
<circle cx="1023.01" cy="169.7" r="2.75" fill="#fff" stroke="#2aa9b0" stroke-width="1.1"/>
<text x="1032.51" y="173.4" font-size="8.8" fill="#666">工业电</text>
</svg>
<div class="t title" style="left:20.64px;top:477.8px">月用能趋势</div>
<svg width="1076.71" height="655" viewBox="0 0 1076.71 655">
<text x="35.07" y="627" font-size="8.4" fill="#9a9a9a" text-anchor="end">0</text>
<line x1="39.91" y1="601.94" x2="308.95" y2="601.94" stroke="#e6e6e8" stroke-width="1"/>
<text x="35.07" y="605.44" font-size="8.4" fill="#9a9a9a" text-anchor="end">1000</text>
<line x1="39.91" y1="580.38" x2="308.95" y2="580.38" stroke="#e6e6e8" stroke-width="1"/>
<text x="35.07" y="583.88" font-size="8.4" fill="#9a9a9a" text-anchor="end">2000</text>
<line x1="39.91" y1="558.82" x2="308.95" y2="558.82" stroke="#e6e6e8" stroke-width="1"/>
<text x="35.07" y="562.32" font-size="8.4" fill="#9a9a9a" text-anchor="end">3000</text>
<line x1="39.91" y1="537.26" x2="308.95" y2="537.26" stroke="#e6e6e8" stroke-width="1"/>
<text x="35.07" y="540.76" font-size="8.4" fill="#9a9a9a" text-anchor="end">4000</text>
<line x1="39.91" y1="515.7" x2="308.95" y2="515.7" stroke="#e6e6e8" stroke-width="1"/>
<text x="35.07" y="519.2" font-size="8.4" fill="#9a9a9a" text-anchor="end">5000</text>
<line x1="39.91" y1="623.5" x2="308.95" y2="623.5" stroke="#a3a3a5" stroke-width="1.1"/>
<text x="34.25" y="505" font-size="7.6" fill="#9a9a9a" text-anchor="end">m³</text>
<text x="41.74" y="638.4" font-size="8.4" fill="#9a9a9a" text-anchor="middle">01</text>
<text x="59.34" y="638.4" font-size="8.4" fill="#9a9a9a" text-anchor="middle">03</text>
<text x="77.17" y="638.4" font-size="8.4" fill="#9a9a9a" text-anchor="middle">05</text>
<text x="94.75" y="638.4" font-size="8.4" fill="#9a9a9a" text-anchor="middle">07</text>
<text x="111.7" y="638.4" font-size="8.4" fill="#9a9a9a" text-anchor="middle">09</text>
<text x="128.34" y="638.4" font-size="8.4" fill="#9a9a9a" text-anchor="middle">11</text>
<text x="143.63" y="638.4" font-size="8.4" fill="#9a9a9a" text-anchor="middle">13</text>
<text x="160.58" y="638.4" font-size="8.4" fill="#9a9a9a" text-anchor="middle">15</text>
<text x="176.38" y="638.4" font-size="8.4" fill="#9a9a9a" text-anchor="middle">17</text>
<text x="192.92" y="638.4" font-size="8.4" fill="#9a9a9a" text-anchor="middle">19</text>
<text x="208.88" y="638.4" font-size="8.4" fill="#9a9a9a" text-anchor="middle">21</text>
<text x="226.59" y="638.4" font-size="8.4" fill="#9a9a9a" text-anchor="middle">23</text>
<text x="244.14" y="638.4" font-size="8.4" fill="#9a9a9a" text-anchor="middle">25</text>
<text x="261.62" y="638.4" font-size="8.4" fill="#9a9a9a" text-anchor="middle">27</text>
<text x="279.05" y="638.4" font-size="8.4" fill="#9a9a9a" text-anchor="middle">29</text>
<text x="296.53" y="638.4" font-size="8.4" fill="#9a9a9a" text-anchor="middle">31</text>
<text x="308.86" y="637.3" font-size="8.2" fill="#9a9a9a" text-anchor="middle">日</text>
<polyline points="42.65,554.51 59.52,573.48 77.35,560.54 94.93,556.66 111.88,552.35 128.52,546.53 143.82,554.72 160.76,543.51 176.57,532.95 193.11,565.72 209.06,574.77 226.77,575.64 244.32,558.17 261.8,540.06 279.23,556.02 296.71,540.06" fill="none" stroke="#2aa9b0" stroke-width="1.15" stroke-linejoin="round"/>
<circle cx="42.65" cy="554.51" r="2.3" fill="#fff" stroke="#2aa9b0" stroke-width="1.05"/>
<circle cx="59.52" cy="573.48" r="2.3" fill="#fff" stroke="#2aa9b0" stroke-width="1.05"/>
<circle cx="77.35" cy="560.54" r="2.3" fill="#fff" stroke="#2aa9b0" stroke-width="1.05"/>
<circle cx="94.93" cy="556.66" r="2.3" fill="#fff" stroke="#2aa9b0" stroke-width="1.05"/>
<circle cx="111.88" cy="552.35" r="2.3" fill="#fff" stroke="#2aa9b0" stroke-width="1.05"/>
<circle cx="128.52" cy="546.53" r="2.3" fill="#fff" stroke="#2aa9b0" stroke-width="1.05"/>
<circle cx="143.82" cy="554.72" r="2.3" fill="#fff" stroke="#2aa9b0" stroke-width="1.05"/>
<circle cx="160.76" cy="543.51" r="2.3" fill="#fff" stroke="#2aa9b0" stroke-width="1.05"/>
<circle cx="176.57" cy="532.95" r="2.3" fill="#fff" stroke="#2aa9b0" stroke-width="1.05"/>
<circle cx="193.11" cy="565.72" r="2.3" fill="#fff" stroke="#2aa9b0" stroke-width="1.05"/>
<circle cx="209.06" cy="574.77" r="2.3" fill="#fff" stroke="#2aa9b0" stroke-width="1.05"/>
<circle cx="226.77" cy="575.64" r="2.3" fill="#fff" stroke="#2aa9b0" stroke-width="1.05"/>
<circle cx="244.32" cy="558.17" r="2.3" fill="#fff" stroke="#2aa9b0" stroke-width="1.05"/>
<circle cx="261.8" cy="540.06" r="2.3" fill="#fff" stroke="#2aa9b0" stroke-width="1.05"/>
<circle cx="279.23" cy="556.02" r="2.3" fill="#fff" stroke="#2aa9b0" stroke-width="1.05"/>
<circle cx="296.71" cy="540.06" r="2.3" fill="#fff" stroke="#2aa9b0" stroke-width="1.05"/>
<line x1="272.05" y1="482.6" x2="283.93" y2="482.6" stroke="#2aa9b0" stroke-width="1.1"/>
<circle cx="277.99" cy="482.6" r="2.75" fill="#fff" stroke="#2aa9b0" stroke-width="1.1"/>
<text x="287.03" y="486.3" font-size="8.8" fill="#666">工业电</text>
</svg>
<div class="t title" style="left:340.91px;top:477.8px">月用能趋势</div>
<svg width="1076.71" height="655" viewBox="0 0 1076.71 655">
<text x="355.25" y="627" font-size="8.4" fill="#9a9a9a" text-anchor="end">0</text>
<line x1="359.82" y1="601.94" x2="664.93" y2="601.94" stroke="#e6e6e8" stroke-width="1"/>
<text x="355.25" y="605.44" font-size="8.4" fill="#9a9a9a" text-anchor="end">1000</text>
<line x1="359.82" y1="580.38" x2="664.93" y2="580.38" stroke="#e6e6e8" stroke-width="1"/>
<text x="355.25" y="583.88" font-size="8.4" fill="#9a9a9a" text-anchor="end">2000</text>
<line x1="359.82" y1="558.82" x2="664.93" y2="558.82" stroke="#e6e6e8" stroke-width="1"/>
<text x="355.25" y="562.32" font-size="8.4" fill="#9a9a9a" text-anchor="end">3000</text>
<line x1="359.82" y1="537.26" x2="664.93" y2="537.26" stroke="#e6e6e8" stroke-width="1"/>
<text x="355.25" y="540.76" font-size="8.4" fill="#9a9a9a" text-anchor="end">4000</text>
<line x1="359.82" y1="515.7" x2="664.93" y2="515.7" stroke="#e6e6e8" stroke-width="1"/>
<text x="355.25" y="519.2" font-size="8.4" fill="#9a9a9a" text-anchor="end">5000</text>
<line x1="359.82" y1="623.5" x2="664.93" y2="623.5" stroke="#a3a3a5" stroke-width="1.1"/>
<text x="354.34" y="505" font-size="7.6" fill="#9a9a9a" text-anchor="end">m³</text>
<text x="361.64" y="638.4" font-size="8.4" fill="#9a9a9a" text-anchor="middle">01</text>
<text x="381.29" y="638.4" font-size="8.4" fill="#9a9a9a" text-anchor="middle">03</text>
<text x="401.3" y="638.4" font-size="8.4" fill="#9a9a9a" text-anchor="middle">05</text>
<text x="421.01" y="638.4" font-size="8.4" fill="#9a9a9a" text-anchor="middle">07</text>
<text x="440.02" y="638.4" font-size="8.4" fill="#9a9a9a" text-anchor="middle">09</text>
<text x="458.68" y="638.4" font-size="8.4" fill="#9a9a9a" text-anchor="middle">11</text>
<text x="475.83" y="638.4" font-size="8.4" fill="#9a9a9a" text-anchor="middle">13</text>
<text x="494.84" y="638.4" font-size="8.4" fill="#9a9a9a" text-anchor="middle">15</text>
<text x="512.56" y="638.4" font-size="8.4" fill="#9a9a9a" text-anchor="middle">17</text>
<text x="531.11" y="638.4" font-size="8.4" fill="#9a9a9a" text-anchor="middle">19</text>
<text x="549" y="638.4" font-size="8.4" fill="#9a9a9a" text-anchor="middle">21</text>
<text x="568.86" y="638.4" font-size="8.4" fill="#9a9a9a" text-anchor="middle">23</text>
<text x="588.55" y="638.4" font-size="8.4" fill="#9a9a9a" text-anchor="middle">25</text>
<text x="608.16" y="638.4" font-size="8.4" fill="#9a9a9a" text-anchor="middle">27</text>
<text x="627.7" y="638.4" font-size="8.4" fill="#9a9a9a" text-anchor="middle">29</text>
<text x="647.31" y="638.4" font-size="8.4" fill="#9a9a9a" text-anchor="middle">31</text>
<text x="661.19" y="637.3" font-size="8.2" fill="#9a9a9a" text-anchor="middle">日</text>
<polyline points="362.56,567.66 381.48,587.06 401.48,573.91 421.2,570.25 440.2,565.72 458.86,560.33 476.02,567.88 495.02,556.88 512.74,546.1 531.29,579.09 549.19,588.36 569.05,589 588.74,571.54 608.34,553.65 627.89,569.6 647.49,553.65" fill="none" stroke="#e8795a" stroke-width="1.15" stroke-linejoin="round"/>
<circle cx="362.56" cy="567.66" r="2.3" fill="#fff" stroke="#e8795a" stroke-width="1.05"/>
<circle cx="381.48" cy="587.06" r="2.3" fill="#fff" stroke="#e8795a" stroke-width="1.05"/>
<circle cx="401.48" cy="573.91" r="2.3" fill="#fff" stroke="#e8795a" stroke-width="1.05"/>
<circle cx="421.2" cy="570.25" r="2.3" fill="#fff" stroke="#e8795a" stroke-width="1.05"/>
<circle cx="440.2" cy="565.72" r="2.3" fill="#fff" stroke="#e8795a" stroke-width="1.05"/>
<circle cx="458.86" cy="560.33" r="2.3" fill="#fff" stroke="#e8795a" stroke-width="1.05"/>
<circle cx="476.02" cy="567.88" r="2.3" fill="#fff" stroke="#e8795a" stroke-width="1.05"/>
<circle cx="495.02" cy="556.88" r="2.3" fill="#fff" stroke="#e8795a" stroke-width="1.05"/>
<circle cx="512.74" cy="546.1" r="2.3" fill="#fff" stroke="#e8795a" stroke-width="1.05"/>
<circle cx="531.29" cy="579.09" r="2.3" fill="#fff" stroke="#e8795a" stroke-width="1.05"/>
<circle cx="549.19" cy="588.36" r="2.3" fill="#fff" stroke="#e8795a" stroke-width="1.05"/>
<circle cx="569.05" cy="589" r="2.3" fill="#fff" stroke="#e8795a" stroke-width="1.05"/>
<circle cx="588.74" cy="571.54" r="2.3" fill="#fff" stroke="#e8795a" stroke-width="1.05"/>
<circle cx="608.34" cy="553.65" r="2.3" fill="#fff" stroke="#e8795a" stroke-width="1.05"/>
<circle cx="627.89" cy="569.6" r="2.3" fill="#fff" stroke="#e8795a" stroke-width="1.05"/>
<circle cx="647.49" cy="553.65" r="2.3" fill="#fff" stroke="#e8795a" stroke-width="1.05"/>
<line x1="624.02" y1="482.6" x2="635.89" y2="482.6" stroke="#e8795a" stroke-width="1.1"/>
<circle cx="629.95" cy="482.6" r="2.75" fill="#fff" stroke="#e8795a" stroke-width="1.1"/>
<text x="638.9" y="486.3" font-size="8.8" fill="#666">工业水</text>
</svg>
<div class="t title" style="left:697.53px;top:477.8px">月用能趋势</div>
<svg width="1076.71" height="655" viewBox="0 0 1076.71 655">
<text x="714.89" y="627" font-size="8.4" fill="#9a9a9a" text-anchor="end">0</text>
<line x1="719" y1="601.94" x2="1057.9" y2="601.94" stroke="#e6e6e8" stroke-width="1"/>
<text x="714.89" y="605.44" font-size="8.4" fill="#9a9a9a" text-anchor="end">1000</text>
<line x1="719" y1="580.38" x2="1057.9" y2="580.38" stroke="#e6e6e8" stroke-width="1"/>
<text x="714.89" y="583.88" font-size="8.4" fill="#9a9a9a" text-anchor="end">2000</text>
<line x1="719" y1="558.82" x2="1057.9" y2="558.82" stroke="#e6e6e8" stroke-width="1"/>
<text x="714.89" y="562.32" font-size="8.4" fill="#9a9a9a" text-anchor="end">3000</text>
<line x1="719" y1="537.26" x2="1057.9" y2="537.26" stroke="#e6e6e8" stroke-width="1"/>
<text x="714.89" y="540.76" font-size="8.4" fill="#9a9a9a" text-anchor="end">4000</text>
<line x1="719" y1="515.7" x2="1057.9" y2="515.7" stroke="#e6e6e8" stroke-width="1"/>
<text x="714.89" y="519.2" font-size="8.4" fill="#9a9a9a" text-anchor="end">5000</text>
<line x1="719" y1="623.5" x2="1057.9" y2="623.5" stroke="#a3a3a5" stroke-width="1.1"/>
<text x="713.7" y="505" font-size="7.6" fill="#9a9a9a" text-anchor="end">m³</text>
<text x="720.82" y="638.4" font-size="8.4" fill="#9a9a9a" text-anchor="middle">01</text>
<text x="742.62" y="638.4" font-size="8.4" fill="#9a9a9a" text-anchor="middle">03</text>
<text x="764.9" y="638.4" font-size="8.4" fill="#9a9a9a" text-anchor="middle">05</text>
<text x="786.86" y="638.4" font-size="8.4" fill="#9a9a9a" text-anchor="middle">07</text>
<text x="808.03" y="638.4" font-size="8.4" fill="#9a9a9a" text-anchor="middle">09</text>
<text x="828.82" y="638.4" font-size="8.4" fill="#9a9a9a" text-anchor="middle">11</text>
<text x="847.92" y="638.4" font-size="8.4" fill="#9a9a9a" text-anchor="middle">13</text>
<text x="869.09" y="638.4" font-size="8.4" fill="#9a9a9a" text-anchor="middle">15</text>
<text x="888.83" y="638.4" font-size="8.4" fill="#9a9a9a" text-anchor="middle">17</text>
<text x="909.49" y="638.4" font-size="8.4" fill="#9a9a9a" text-anchor="middle">19</text>
<text x="929.42" y="638.4" font-size="8.4" fill="#9a9a9a" text-anchor="middle">21</text>
<text x="951.54" y="638.4" font-size="8.4" fill="#9a9a9a" text-anchor="middle">23</text>
<text x="973.47" y="638.4" font-size="8.4" fill="#9a9a9a" text-anchor="middle">25</text>
<text x="995.3" y="638.4" font-size="8.4" fill="#9a9a9a" text-anchor="middle">27</text>
<text x="1017.07" y="638.4" font-size="8.4" fill="#9a9a9a" text-anchor="middle">29</text>
<text x="1038.9" y="638.4" font-size="8.4" fill="#9a9a9a" text-anchor="middle">31</text>
<text x="1053.15" y="637.3" font-size="8.2" fill="#9a9a9a" text-anchor="middle">日</text>
<polyline points="721.74,567.66 742.81,587.06 765.09,573.91 787.05,570.25 808.21,565.72 829,560.33 848.1,567.88 869.27,556.88 889.01,546.1 909.67,579.09 929.6,588.36 951.72,589 973.65,571.54 995.48,553.65 1017.25,569.6 1039.09,553.65" fill="none" stroke="#4a72c8" stroke-width="1.15" stroke-linejoin="round"/>
<circle cx="721.74" cy="567.66" r="2.3" fill="#fff" stroke="#4a72c8" stroke-width="1.05"/>
<circle cx="742.81" cy="587.06" r="2.3" fill="#fff" stroke="#4a72c8" stroke-width="1.05"/>
<circle cx="765.09" cy="573.91" r="2.3" fill="#fff" stroke="#4a72c8" stroke-width="1.05"/>
<circle cx="787.05" cy="570.25" r="2.3" fill="#fff" stroke="#4a72c8" stroke-width="1.05"/>
<circle cx="808.21" cy="565.72" r="2.3" fill="#fff" stroke="#4a72c8" stroke-width="1.05"/>
<circle cx="829" cy="560.33" r="2.3" fill="#fff" stroke="#4a72c8" stroke-width="1.05"/>
<circle cx="848.1" cy="567.88" r="2.3" fill="#fff" stroke="#4a72c8" stroke-width="1.05"/>
<circle cx="869.27" cy="556.88" r="2.3" fill="#fff" stroke="#4a72c8" stroke-width="1.05"/>
<circle cx="889.01" cy="546.1" r="2.3" fill="#fff" stroke="#4a72c8" stroke-width="1.05"/>
<circle cx="909.67" cy="579.09" r="2.3" fill="#fff" stroke="#4a72c8" stroke-width="1.05"/>
<circle cx="929.6" cy="588.36" r="2.3" fill="#fff" stroke="#4a72c8" stroke-width="1.05"/>
<circle cx="951.72" cy="589" r="2.3" fill="#fff" stroke="#4a72c8" stroke-width="1.05"/>
<circle cx="973.65" cy="571.54" r="2.3" fill="#fff" stroke="#4a72c8" stroke-width="1.05"/>
<circle cx="995.48" cy="553.65" r="2.3" fill="#fff" stroke="#4a72c8" stroke-width="1.05"/>
<circle cx="1017.25" cy="569.6" r="2.3" fill="#fff" stroke="#4a72c8" stroke-width="1.05"/>
<circle cx="1039.09" cy="553.65" r="2.3" fill="#fff" stroke="#4a72c8" stroke-width="1.05"/>
<line x1="1016.62" y1="482.6" x2="1028.49" y2="482.6" stroke="#4a72c8" stroke-width="1.1"/>
<circle cx="1022.56" cy="482.6" r="2.75" fill="#fff" stroke="#4a72c8" stroke-width="1.1"/>
<text x="1031.6" y="486.3" font-size="8.8" fill="#666">天然气</text>
</svg>
</div></body></html>
